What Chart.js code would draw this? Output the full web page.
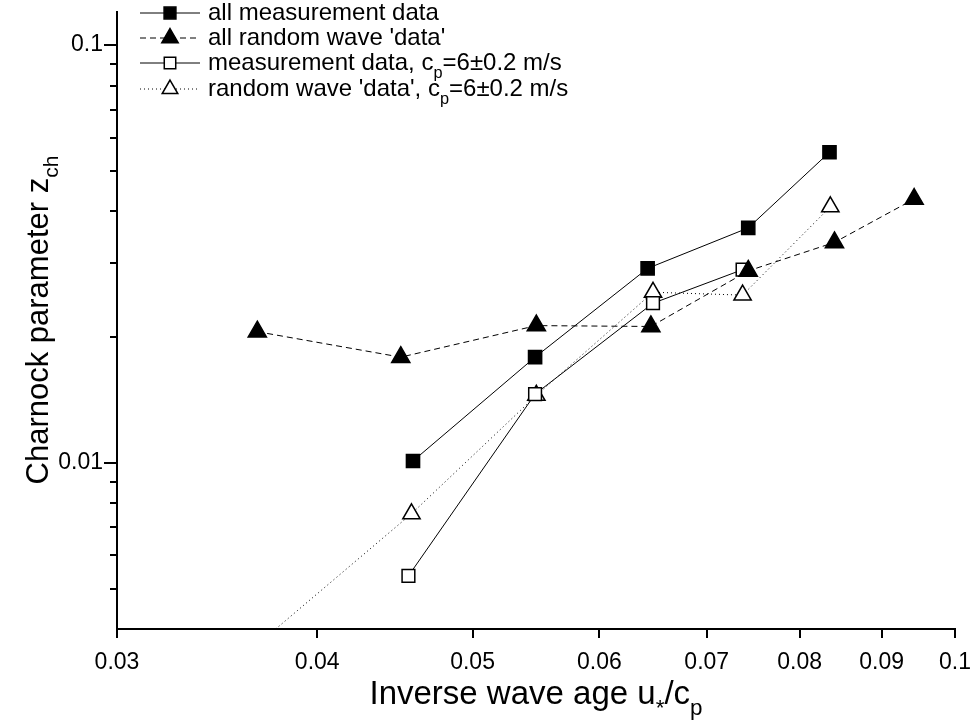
<!DOCTYPE html>
<html>
<head>
<meta charset="utf-8">
<title>Charnock parameter vs inverse wave age</title>
<script src="https://cdn.jsdelivr.net/npm/chart.js@4.4.1/dist/chart.umd.min.js"></script>
<style>
  body { margin: 0; background: #fff; }
  #wrap { width: 973px; height: 725px; position: relative; }
</style>
</head>
<body>
<div id="wrap"><canvas id="charnockChart"></canvas></div>
<script>
// values
const allMeasX = [0.0459, 0.0547, 0.0643, 0.0743, 0.0835];
const allMeasY = [0.0101, 0.0179, 0.0292, 0.0365, 0.0554];

const allRandX = [0.0367, 0.0451, 0.0548, 0.0646, 0.0743, 0.0841, 0.0943];
const allRandY = [0.0206, 0.0179, 0.0213, 0.0212, 0.0288, 0.0337, 0.0428];

const measCpX = [0.0456, 0.0547, 0.0648, 0.0737];
const measCpY = [0.00536, 0.0146, 0.0241, 0.0290];

const randCpX = [0.0367, 0.0458, 0.0548, 0.0648, 0.0737, 0.0836];
const randCpY = [0.00367, 0.00755, 0.0145, 0.0256, 0.0252, 0.0410];

const xTicks = [0.03, 0.04, 0.05, 0.06, 0.07, 0.08, 0.09, 0.1];
const yTicks = [0.01, 0.02, 0.03, 0.04, 0.05, 0.06, 0.07, 0.08, 0.09, 0.1,
                0.005, 0.006, 0.007, 0.008, 0.009];
const yLabelled = [0.01, 0.1];

const FONT = "'Liberation Sans', Arial, sans-serif";

function pts(xs, ys) {
    return xs.map((x, i) => ({ x: x, y: ys[i] }));
}

const seriesStyle = [
    { label: [{ t: 'all measurement data' }], dash: [], style: 'rect', fill: '#000', radius: 9.3 },
    { label: [{ t: "all random wave 'data'" }], dash: [6, 4], style: 'triangle', fill: '#000', radius: 10.5 },
    { label: [{ t: 'measurement data, c' }, { t: 'p', sub: true }, { t: '=6\u00b10.2 m/s' }], dash: [], style: 'rect', fill: '#fff', radius: 9 },
    { label: [{ t: "random wave 'data', c" }, { t: 'p', sub: true }, { t: '=6\u00b10.2 m/s' }], dash: [1, 3], style: 'triangle', fill: '#fff', radius: 10 }
];
const seriesData = [pts(allMeasX, allMeasY), pts(allRandX, allRandY), pts(measCpX, measCpY), pts(randCpX, randCpY)];

// draws text pieces, lowering and shrinking the subscripts
function drawRich(ctx, parts, x, y, size) {
    ctx.textBaseline = 'middle';
    ctx.textAlign = 'left';
    parts.forEach(p => {
        const s = p.sub ? size * 0.68 : size;
        ctx.font = s + 'px ' + FONT;
        ctx.fillText(p.t, x, p.sub ? y + size * 0.42 : y);
        x += ctx.measureText(p.t).width;
    });
    return x;
}
function richWidth(ctx, parts, size) {
    let w = 0;
    parts.forEach(p => {
        ctx.font = (p.sub ? size * 0.68 : size) + 'px ' + FONT;
        w += ctx.measureText(p.t).width;
    });
    return w;
}

const extras = {
    id: 'extras',
    afterDraw(chart) {
        const ctx = chart.ctx;
        const area = chart.chartArea;
        const xs = chart.scales.x, ys = chart.scales.y;
        ctx.save();
        ctx.strokeStyle = '#000';
        ctx.fillStyle = '#000';
        ctx.lineWidth = 2;
        // tick marks
        xTicks.forEach(v => {
            const px = Math.round(xs.getPixelForValue(v));
            ctx.beginPath();
            ctx.moveTo(px, area.bottom);
            ctx.lineTo(px, area.bottom + 9);
            ctx.stroke();
        });
        yTicks.forEach(v => {
            const py = Math.round(ys.getPixelForValue(v));
            const len = yLabelled.includes(v) ? 13 : 7;
            ctx.beginPath();
            ctx.moveTo(area.left - len, py);
            ctx.lineTo(area.left, py);
            ctx.stroke();
        });

        // axis titles
        const xt = [{ t: 'Inverse wave age u' }, { t: '*', sub: true }, { t: '/c' }, { t: 'p', sub: true }];
        const xw = richWidth(ctx, xt, 33);
        drawRich(ctx, xt, (area.left + area.right) / 2 - xw / 2, 695, 33);

        const yt = [{ t: 'Charnock parameter z' }, { t: 'ch', sub: true }];
        const yw = richWidth(ctx, yt, 31);
        ctx.save();
        ctx.translate(39, 320);
        ctx.rotate(-Math.PI / 2);
        drawRich(ctx, yt, -yw / 2, 0, 31);
        ctx.restore();

        // legend: line sample, marker, label
        const lx = 140, lw = 60, rowY = [13, 38, 63, 89];
        seriesStyle.forEach((s, i) => {
            const y = rowY[i];
            ctx.lineWidth = 1;
            ctx.setLineDash(s.dash);
            ctx.beginPath();
            ctx.moveTo(lx, y);
            ctx.lineTo(lx + lw, y);
            ctx.stroke();
            ctx.setLineDash([]);
            ctx.fillStyle = s.fill;
            ctx.lineWidth = 1.5;
            Chart.helpers.drawPoint(ctx, { pointStyle: s.style, radius: s.radius * 0.9, borderWidth: 1.5, rotation: 0 }, lx + lw / 2, y);
            ctx.fillStyle = '#000';
            drawRich(ctx, s.label, lx + lw + 8, y, 24);
        });
        ctx.restore();
    }
};

const ctx = document.getElementById('charnockChart').getContext('2d');
const charnockChart = new Chart(ctx, {
    type: 'line',
    data: {
        datasets: seriesStyle.map((s, i) => ({
            label: s.label.map(p => p.t).join(''),
            data: seriesData[i],
            borderColor: '#000',
            borderWidth: 1,
            borderDash: s.dash,
            pointStyle: s.style,
            pointRadius: s.radius,
            pointHoverRadius: s.radius,
            pointBackgroundColor: s.fill,
            pointBorderColor: '#000',
            pointBorderWidth: 1.5,
            fill: false,
            tension: 0
        }))
    },
    options: {
        responsive: true,
        maintainAspectRatio: false,
        animation: false,
        events: [],
        layout: { padding: { top: 9, right: 18, left: 0, bottom: 0 } },
        scales: {
            x: {
                type: 'logarithmic',
                min: 0.03,
                max: 0.1,
                afterBuildTicks: scale => { scale.ticks = xTicks.map(v => ({ value: v })); },
                afterFit: scale => {
                    scale.height = 96;
                    scale.paddingLeft = 0;
                    scale.paddingRight = 0;
                },
                grid: { display: false, drawTicks: false },
                border: { display: true, color: '#000', width: 2 },
                ticks: {
                    color: '#000',
                    padding: 20,
                    maxRotation: 0,
                    autoSkip: false,
                    font: { family: FONT, size: 23 },
                    callback: v => String(v)
                }
            },
            y: {
                type: 'logarithmic',
                min: 0.004,
                max: 0.12,
                afterBuildTicks: scale => { scale.ticks = yLabelled.map(v => ({ value: v })); },
                afterFit: scale => {
                    scale.width = 117;
                    scale.paddingTop = 0;
                    scale.paddingBottom = 0;
                },
                grid: { display: false, drawTicks: false },
                border: { display: true, color: '#000', width: 2 },
                ticks: {
                    color: '#000',
                    padding: 14,
                    autoSkip: false,
                    font: { family: FONT, size: 23 },
                    callback: v => String(v)
                }
            }
        },
        plugins: {
            legend: { display: false },
            tooltip: { enabled: false }
        }
    },
    plugins: [extras]
});
</script>
</body>
</html>
